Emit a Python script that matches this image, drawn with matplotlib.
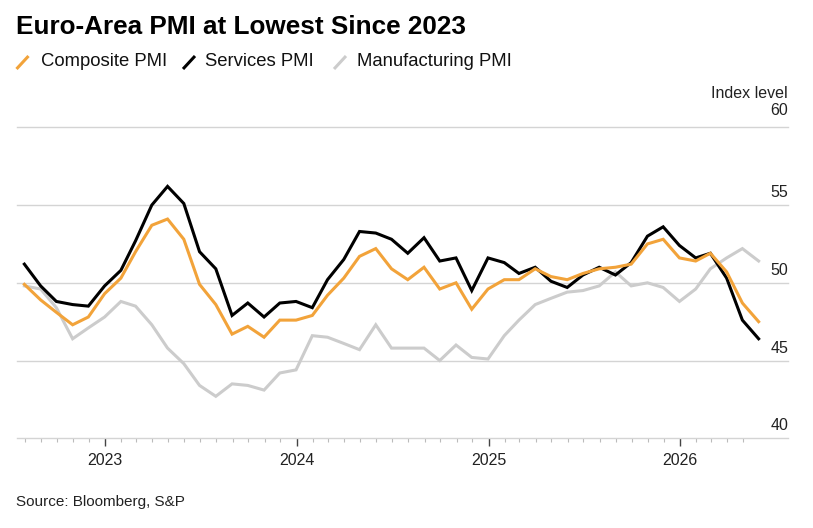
import matplotlib
matplotlib.use('Agg')
import matplotlib.pyplot as plt
import matplotlib.dates as mdates
from matplotlib.lines import Line2D
from matplotlib.ticker import FixedLocator
import pandas as pd

plt.rcParams['font.family'] = ['Liberation Sans', 'DejaVu Sans']

# monthly PMI readings, Jul 2022 .. May 2026 (month-end dates)
months = pd.date_range('2022-07-31', periods=47, freq='ME')

composite = [49.9, 48.9, 48.1, 47.3, 47.8, 49.3,
             50.3, 52.0, 53.7, 54.1, 52.8, 49.9, 48.6, 46.7, 47.2, 46.5, 47.6, 47.6,
             47.9, 49.2, 50.3, 51.7, 52.2, 50.9, 50.2, 51.0, 49.6, 50.0, 48.3, 49.6,
             50.2, 50.2, 50.9, 50.4, 50.2, 50.6, 50.9, 51.0, 51.2, 52.5, 52.8, 51.6,
             51.4, 51.9, 50.7, 48.7, 47.5]
services = [51.2, 49.8, 48.8, 48.6, 48.5, 49.8,
            50.8, 52.7, 55.0, 56.2, 55.1, 52.0, 50.9, 47.9, 48.7, 47.8, 48.7, 48.8,
            48.4, 50.2, 51.5, 53.3, 53.2, 52.8, 51.9, 52.9, 51.4, 51.6, 49.5, 51.6,
            51.3, 50.6, 51.0, 50.1, 49.7, 50.5, 51.0, 50.5, 51.3, 53.0, 53.6, 52.4,
            51.6, 51.9, 50.3, 47.6, 46.4]
manufacturing = [49.8, 49.6, 48.4, 46.4, 47.1, 47.8,
                 48.8, 48.5, 47.3, 45.8, 44.8, 43.4, 42.7, 43.5, 43.4, 43.1, 44.2, 44.4,
                 46.6, 46.5, 46.1, 45.7, 47.3, 45.8, 45.8, 45.8, 45.0, 46.0, 45.2, 45.1,
                 46.6, 47.6, 48.6, 49.0, 49.4, 49.5, 49.8, 50.7, 49.8, 50.0, 49.7, 48.8,
                 49.6, 50.9, 51.6, 52.2, 51.4]

y_ticks = [40, 45, 50, 55, 60]
year_ticks = ['2023-01-01', '2024-01-01', '2025-01-01', '2026-01-01']

ORANGE = '#f2a33a'
GRAY = '#cccccc'
GRID = '#d4d4d4'

W, H = 813, 528
fig = plt.figure(figsize=(W / 100, H / 100), dpi=100)
ax = fig.add_axes([16.5 / W, 1 - 438.3 / H, (788 - 16.5) / W, (438.3 - 127.3) / H])

ax.plot(months, manufacturing, color=GRAY, lw=2.2, zorder=3, solid_joinstyle='miter')
ax.plot(months, services, color='black', lw=2.2, zorder=4, solid_joinstyle='miter')
ax.plot(months, composite, color=ORANGE, lw=2.2, zorder=5, solid_joinstyle='miter')

ax.set_xlim(pd.Timestamp('2022-07-16'), pd.Timestamp('2026-07-26'))
ax.set_ylim(40, 60)

for v in y_ticks[1:]:
    ax.axhline(v, color=GRID, lw=1.0, zorder=1, clip_on=False)

for s in ['top', 'right', 'left']:
    ax.spines[s].set_visible(False)
ax.spines['bottom'].set_color(GRID)
ax.spines['bottom'].set_linewidth(1.0)

# y labels sit above the gridlines at the right edge
ax.set_yticks([])
for v in y_ticks:
    gap = 6.5 if v == y_ticks[-1] else 3.5
    ax.annotate(str(v), xy=(1.0, v), xycoords=ax.get_yaxis_transform(),
                xytext=(0, gap), textcoords='offset points',
                ha='right', va='bottom', fontsize=11.5, color='#222222')
ax.annotate('Index level', xy=(1.0, 60), xycoords=ax.get_yaxis_transform(),
            xytext=(0, 19), textcoords='offset points',
            ha='right', va='bottom', fontsize=11.5, color='#222222')

majors = [mdates.date2num(pd.Timestamp(d)) for d in year_ticks]
ax.xaxis.set_major_locator(FixedLocator(majors))
ax.xaxis.set_major_formatter(mdates.DateFormatter('%Y'))
minor_dates = pd.date_range('2022-08-01', '2026-05-01', freq='MS')
minor_dates = [d for d in minor_dates if d.month != 1]
ax.xaxis.set_minor_locator(FixedLocator(mdates.date2num(minor_dates)))
ax.tick_params(axis='x', which='major', length=6, width=1.0, color='#444444',
               pad=4.5, labelsize=11.5, labelcolor='#222222')
ax.tick_params(axis='x', which='minor', length=3, width=0.8, color='#bbbbbb')

# title
fig.text(16 / W, 1 - 27.5 / H, 'Euro-Area PMI at Lowest Since 2023',
         fontsize=18.8, fontweight='bold', ha='left', va='center', color='black')

# legend (slash markers + labels)
legend_items = [('Composite PMI', ORANGE, 16.5, 40.5),
                ('Services PMI', 'black', 183, 205),
                ('Manufacturing PMI', GRAY, 334, 357)]
for label, col, sx, tx in legend_items:
    fig.add_artist(Line2D([sx / W, (sx + 12) / W], [1 - 69 / H, 1 - 56 / H],
                          transform=fig.transFigure, color=col, lw=2.2,
                          solid_capstyle='butt'))
    fig.text(tx / W, 1 - 62 / H, label, fontsize=13.3, ha='left', va='center',
             color='#111111')

fig.text(16 / W, 1 - 502 / H, 'Source: Bloomberg, S&P', fontsize=11,
         ha='left', va='center', color='#222222')

fig.savefig('out.png', dpi=100, facecolor='white')
